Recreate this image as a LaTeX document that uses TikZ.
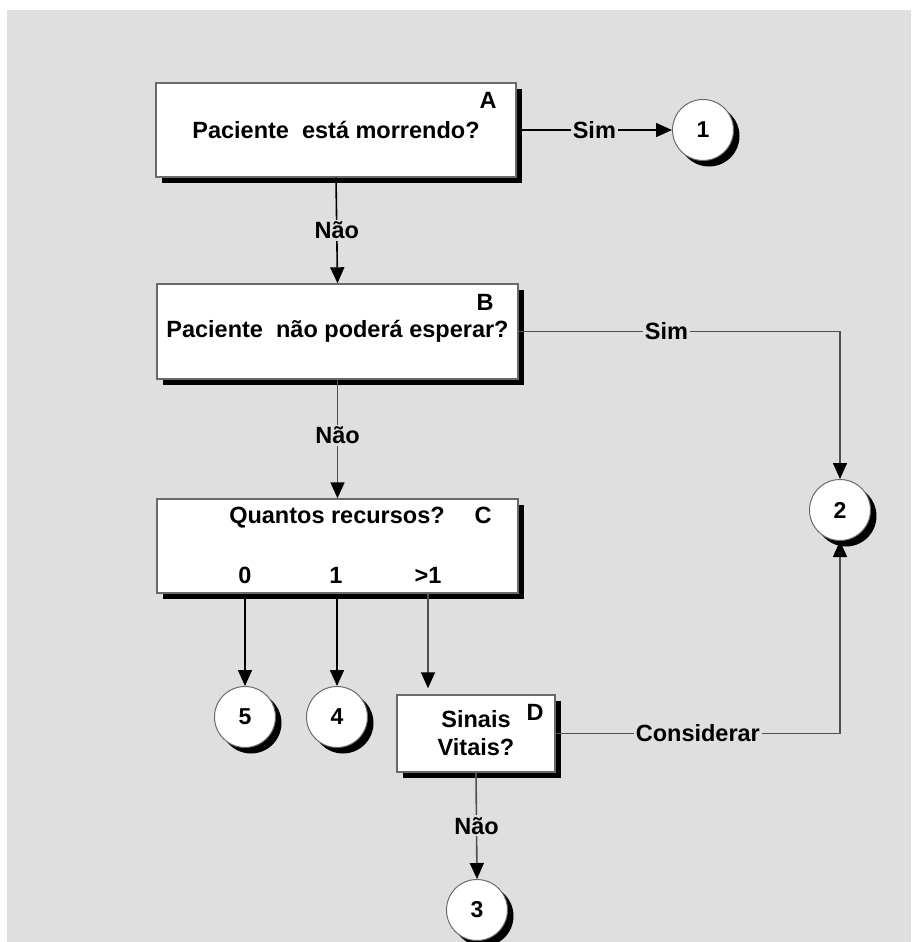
\documentclass[tikz,border=0pt]{standalone}
\usepackage{fontspec}
\setmainfont{Liberation Sans}
\usetikzlibrary{arrows.meta,shadows}
\definecolor{bg}{HTML}{DFDFDF}
\definecolor{ln}{HTML}{505050}
\definecolor{bd}{HTML}{6A6A6A}
\begin{document}
\begin{tikzpicture}[x=1pt,y=-1pt,
  every node/.style={font=\fontsize{23.5}{28}\selectfont\bfseries},
  box/.style={draw=bd,line width=1.4pt,fill=white,inner sep=0pt,
    drop shadow={shadow xshift=6pt,shadow yshift=-6pt,opacity=1,fill=black}},
  circ/.style={circle,draw=bd,line width=1pt,fill=white,minimum size=61pt,inner sep=0pt,
    font=\fontsize{23}{27}\selectfont\bfseries,
    drop shadow={shadow xshift=6pt,shadow yshift=-6pt,opacity=1,fill=black}},
  lbl/.style={fill=bg,inner sep=2pt},
  tip/.style={-{Triangle[length=16pt,width=14pt,color=black]}},
  blk/.style={draw=black,line width=1.6pt,tip},
  gry/.style={draw=ln,line width=1.6pt,tip},
]
\useasboundingbox (0,0) rectangle (911,942);
\fill[bg] (7,10) rectangle (911,942);

% boxes
\node[box,minimum width=360pt,minimum height=94pt] (A) at (336,130) {Paciente\ \ está morrendo?};
\node (la) at (488,100) {A};
\node[box,minimum width=361pt,minimum height=95pt] (B) at (337.5,331.5) {Paciente\ \ não poderá esperar?};
\node (lb) at (485,302) {B};
\node[box,minimum width=361pt,minimum height=94pt] (C) at (337.5,546) {};
\node (qc) at (337,518) {Quantos recursos?};
\node (lc) at (483,515) {C};
\node (n0) at (245,575) {0};
\node (n1) at (336,575) {1};
\node (n2) at (428,575) {>1};
\node[box,minimum width=158pt,minimum height=77pt,align=center] (D) at (476,733.5) {Sinais\\Vitais?};
\node (ld) at (535,712) {D};

% circles
\node[circ] (c1) at (703,130) {1};
\node[circ] (c2) at (840,510) {2};
\node[circ] (c3) at (477,910) {3};
\node[circ] (c4) at (337,717) {4};
\node[circ] (c5) at (245,717) {5};

% connectors
\draw[blk] (A.east) -- node[lbl] {Sim} (c1.west);
\draw[blk] (A.south) -- node[lbl] {Não} (B.north);
\draw[gry] (B.east) -- node[lbl,pos=0.46] {Sim} (B.east -| c2) -- (c2.north);
\draw[gry] (B.south) -- node[lbl,pos=0.47] {Não} (C.north);
\draw[blk] (C.south -| c5) -- (c5.north);
\draw[blk] (C.south -| c4) -- (c4.north);
\draw[gry,shorten >=6pt] (C.south -| n2) -- (D.north -| n2);
\draw[gry] (D.east) -- node[lbl] {Considerar} (D.east -| c2) -- (c2.south);
\draw[gry] (D.south) -- node[lbl] {Não} (c3.north);
\end{tikzpicture}
\end{document}
